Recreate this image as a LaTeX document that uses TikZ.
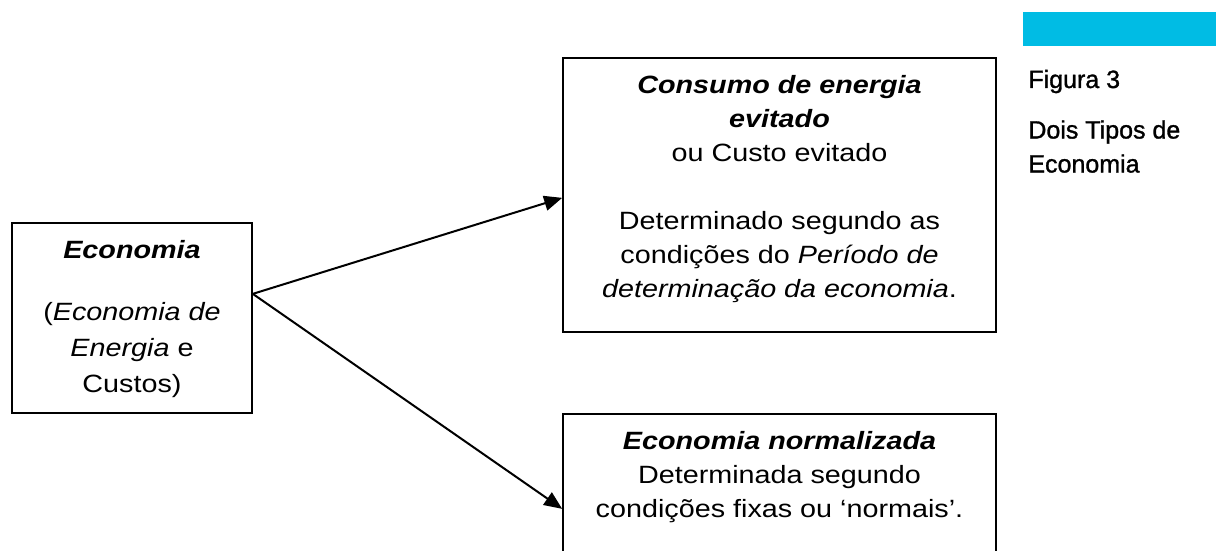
\documentclass[tikz,border=0pt]{standalone}
\usepackage{fontspec}
\setmainfont[FakeStretch=1.15]{Liberation Sans}
\newfontfamily\captionfont[FakeBold=1.2]{Liberation Sans}
\usetikzlibrary{arrows.meta}
\definecolor{barcyan}{RGB}{0,188,228}

\begin{document}
\begin{tikzpicture}[x=0.5pt,y=-0.5pt,
    box/.style={draw, line width=0.8pt, align=center, inner xsep=4pt, inner ysep=9pt, minimum width=216.5pt, font=\fontsize{12.5}{17}\selectfont},
    caption/.style={inner sep=0pt, align=left, font=\captionfont\fontsize{12.5}{17}\selectfont},
    link/.style={line width=1pt, -{Triangle[length=9pt,width=7.5pt]}}]
  \clip (0,0) rectangle (1216,551);
  \fill[barcyan] (1023,12) rectangle (1216,46);
  % boxes
  \node[box, anchor=north, minimum width=120pt, text depth=1pt, font=\fontsize{12.5}{18}\selectfont] (econ) at (132,222)
    {\textbf{\textit{Economia}}\\[13pt] (\textit{Economia de}\\ \textit{Energia} e\\ Custos)};
  \node[box, anchor=north, text depth=8pt] (avoided) at (779.5,57)
    {\textbf{\textit{Consumo de energia}}\\ \textbf{\textit{evitado}}\\ ou Custo evitado\\[17pt]
     Determinado segundo as\\ condições do \textit{Período de}\\ \textit{determinação da economia}.};
  \node[box, anchor=north, text depth=12pt] (normal) at (779.5,413)
    {\textbf{\textit{Economia normalizada}}\\ Determinada segundo\\ condições fixas ou ‘normais’.};
  % caption
  \node[caption, anchor=base west] (fignum) at (1028,88) {Figura 3};
  \node[caption, anchor=north west] (figtitle) at (1028,120) {Dois Tipos de\\ Economia};
  % arrows
  \coordinate (src) at ([yshift=12pt]econ.east);
  \draw[link] (src) -- ([yshift=-1.5pt]avoided.west);
  \draw[link] (src) -- ([yshift=-11pt]normal.west);
\end{tikzpicture}
\end{document}
